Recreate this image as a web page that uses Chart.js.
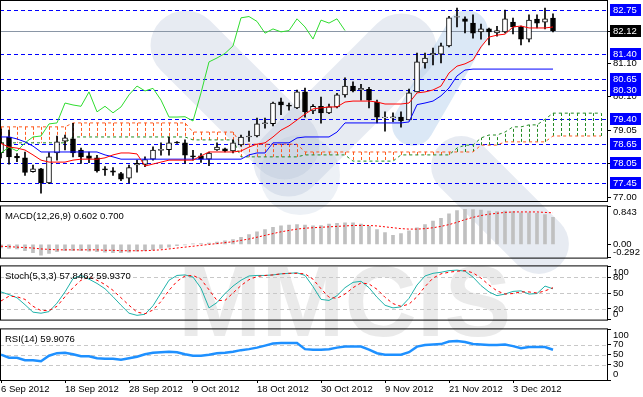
<!DOCTYPE html>
<html>
<head>
<meta charset="utf-8">
<script src="https://cdn.jsdelivr.net/npm/chart.js@4.4.0/dist/chart.umd.min.js"></script>
<style>
  html, body { margin: 0; padding: 0; background: #fff; }
  #wrap { position: relative; width: 643px; height: 397px; overflow: hidden; }
  #wrap canvas { position: absolute; left: 0; }
</style>
</head>
<body>
<div id="wrap">
  <canvas id="wm" width="643" height="397" style="top:0"></canvas>
  <canvas id="main" width="643" height="220" style="top:-9px"></canvas>
  <canvas id="macd" width="643" height="78" style="top:193px"></canvas>
  <canvas id="stoch" width="643" height="80" style="top:253px"></canvas>
  <canvas id="rsi" width="643" height="81" style="top:316px"></canvas>
</div>
<script>
// daily bars, oldest first
const opens = [78.38,78.86,78.27,78.22,77.80,77.88,77.45,78.37,78.73,78.80,
  78.46,78.28,78.22,77.88,77.82,77.74,77.60,78.00,78.02,78.18,
  78.45,78.47,78.70,78.68,78.28,78.28,78.18,78.46,78.50,78.43,
  78.62,78.86,78.89,79.27,79.27,79.94,79.84,79.75,80.24,79.66,
  79.80,79.60,79.78,80.15,80.42,80.30,80.32,79.93,79.44,79.44,
  79.47,79.38,80.24,81.13,81.38,81.40,81.65,82.53,82.48,82.35,
  82.08,82.17,82.05,82.08,82.38,82.23,81.86,82.47,82.38,82.50];
const highs = [79.10,79.07,78.35,78.40,78.00,77.90,78.38,78.89,78.92,79.28,
  78.52,78.40,78.30,77.95,77.92,77.78,78.00,78.15,78.25,78.56,
  78.68,78.86,78.72,78.77,78.45,78.35,78.40,78.68,78.52,78.77,
  78.92,79.04,79.44,79.44,79.93,80.05,79.90,80.30,80.36,79.85,
  80.08,79.87,80.20,80.67,80.55,80.47,80.38,79.99,79.63,79.60,
  79.63,80.33,81.43,81.43,81.58,81.74,82.56,82.81,82.54,82.60,
  82.32,82.20,82.25,82.75,82.50,82.26,82.60,82.60,82.81,82.63];
const lows = [78.22,78.03,78.10,77.68,77.78,77.14,77.43,78.15,78.46,78.25,
  78.05,78.07,77.78,77.68,77.68,77.52,77.45,77.78,77.95,78.15,
  78.30,78.30,78.66,78.05,78.15,78.08,77.98,78.45,78.40,78.37,
  78.58,78.72,78.86,79.13,79.20,79.54,79.68,79.73,79.47,79.57,
  79.28,79.57,79.75,80.08,80.24,79.99,79.75,79.29,79.04,79.33,
  79.16,79.38,80.24,80.97,81.07,81.13,81.62,82.23,82.05,81.89,
  81.86,81.68,81.95,82.05,82.02,81.68,81.77,82.20,82.17,82.08];
const closes = [78.68,78.25,78.22,77.77,77.88,77.45,78.25,78.71,78.83,78.37,
  78.25,78.20,77.82,77.85,77.78,77.57,77.92,78.05,78.17,78.46,
  78.48,78.68,78.68,78.30,78.25,78.18,78.37,78.55,78.43,78.68,
  78.86,78.89,79.26,79.29,79.90,79.84,79.80,80.24,79.63,79.80,
  79.60,79.78,80.15,80.42,80.27,80.35,79.99,79.47,79.47,79.48,
  79.35,80.21,81.16,81.28,81.42,81.65,82.51,82.55,82.40,82.04,
  82.17,82.08,82.12,82.48,82.23,81.86,82.44,82.35,82.48,82.12];

// ichimoku
const tenkan = [78.66,78.55,78.52,78.46,78.31,78.15,78.09,78.09,78.09,78.15,
  78.18,78.18,78.18,78.22,78.31,78.37,78.37,78.34,77.97,78.03,
  78.09,78.15,78.15,78.15,78.15,78.28,78.40,78.40,78.40,78.40,
  78.43,78.55,78.64,78.68,78.86,79.07,79.20,79.38,79.56,79.72,
  79.75,79.78,79.78,79.93,79.96,79.96,79.96,79.93,79.87,79.87,
  79.87,79.90,80.21,80.24,80.30,80.42,80.82,81.03,81.10,81.22,
  81.62,81.92,81.98,82.01,82.23,82.26,82.20,82.20,82.20,82.23];
const kijun = [78.86,78.86,78.80,78.71,78.58,78.40,78.40,78.40,78.40,78.40,
  78.40,78.40,78.40,78.31,78.25,78.18,78.18,78.18,78.18,78.18,
  78.18,78.18,78.18,78.18,78.18,78.18,78.18,78.18,78.18,78.18,
  78.18,78.31,78.37,78.37,78.68,78.68,78.68,78.83,78.86,78.86,
  78.86,78.86,79.01,79.29,79.29,79.29,79.29,79.29,79.29,79.29,
  79.29,79.32,79.85,79.90,79.96,80.12,80.36,80.73,80.91,80.94,
  80.94,80.94,80.94,80.94,80.94,80.94,80.94,80.94,80.94,80.94];
const senkouA = [79.17,79.17,79.17,79.17,79.17,79.17,79.17,79.17,79.17,79.29,
  79.29,79.29,79.29,79.29,79.29,79.29,79.29,79.29,79.29,79.29,
  79.29,79.29,79.29,79.29,79.01,79.01,79.01,79.01,79.01,79.01,
  78.64,78.64,78.64,78.64,78.64,78.64,78.64,78.64,78.40,78.40,
  78.40,78.40,78.40,78.40,78.40,78.40,78.40,78.40,78.40,78.40,
  78.40,78.40,78.40,78.40,78.40,78.40,78.40,78.40,78.40,78.40,
  78.61,78.61,78.61,78.71,78.71,78.71,78.71,78.71,78.71,78.89,
  78.89,78.89,78.89,78.89,78.89,78.89];
const senkouB = [78.68,78.68,78.68,78.68,78.68,78.68,78.68,78.68,78.68,78.86,
  78.86,78.86,78.86,78.86,78.86,78.86,78.86,78.86,78.86,78.86,
  78.86,78.86,78.86,78.86,78.77,78.77,78.77,78.77,78.77,78.77,
  78.25,78.25,78.25,78.25,78.25,78.25,78.25,78.25,78.31,78.31,
  78.31,78.31,78.31,78.31,78.12,78.12,78.12,78.12,78.12,78.12,
  78.31,78.31,78.31,78.31,78.31,78.31,78.31,78.52,78.61,78.61,
  78.83,78.92,78.92,79.01,79.17,79.17,79.23,79.23,79.40,79.59,
  79.59,79.59,79.59,79.59,79.59,79.59];
const chikouShift = 26;

const levels = [82.75, 81.40, 80.65, 80.30, 79.40, 78.65, 78.05, 77.45];
const lastPrice = 82.12;
const priceTicks = [82.10, 81.10, 80.10, 79.05, 78.05, 77.00];

// oscillators
const macdHist = [-0.08,-0.09,-0.10,-0.14,-0.18,-0.24,-0.20,-0.16,-0.14,-0.14,
  -0.14,-0.15,-0.16,-0.17,-0.18,-0.18,-0.17,-0.15,-0.14,-0.12,
  -0.09,-0.06,-0.03,-0.01,0.01,0.02,0.03,0.05,0.08,0.11,
  0.16,0.22,0.28,0.33,0.38,0.41,0.43,0.44,0.43,0.41,
  0.42,0.45,0.47,0.48,0.48,0.45,0.40,0.33,0.26,0.20,
  0.24,0.30,0.37,0.44,0.52,0.58,0.68,0.75,0.78,0.77,
  0.76,0.74,0.73,0.74,0.73,0.70,0.70,0.69,0.66,0.602];
const macdSignal = [-0.04,-0.05,-0.06,-0.07,-0.08,-0.10,-0.11,-0.12,-0.12,-0.12,
  -0.12,-0.12,-0.12,-0.13,-0.13,-0.14,-0.14,-0.14,-0.14,-0.13,
  -0.12,-0.10,-0.08,-0.06,-0.04,-0.02,0.00,0.02,0.04,0.06,
  0.09,0.12,0.16,0.20,0.24,0.28,0.31,0.34,0.36,0.37,
  0.38,0.39,0.40,0.41,0.42,0.42,0.42,0.41,0.39,0.37,
  0.35,0.34,0.34,0.35,0.37,0.40,0.44,0.49,0.55,0.60,
  0.64,0.67,0.69,0.71,0.72,0.72,0.72,0.72,0.71,0.70];
const stochK = [52,47,41,28,14,12,15,31,52,77,
  83,76,68,58,43,27,12,8,10,26,
  50,74,83,84,80,59,22,32,49,63,
  74,82,83,83,84,86,87,88,83,62,
  38,36,45,60,70,72,60,42,27,22,
  24,40,65,82,87,89,92,93,91,80,
  64,52,45,48,53,54,48,49,63,57.85];
const stochD = [35,44,43,38,25,17,17,25,43,60,
  74,80,74,66,55,41,27,14,11,18,
  34,55,72,82,83,76,56,36,36,50,
  64,75,81,83,84,86,87,87,86,76,
  58,42,40,48,60,69,67,57,42,30,
  25,29,43,62,78,86,89,91,92,88,
  78,65,54,48,49,52,52,50,54,59.94];
const rsi = [50,44,44,39,39,37,48,53,54,51,
  47,47,43,42,42,40,43,46,51,54,
  55,56,55,51,48,48,50,53,54,56,
  59,61,64,68,72,73,73,73,61,60,
  60,61,64,66,66,66,60,53,50,50,
  50,55,66,69,70,71,76,77,75,71,
  70,69,69,70,67,63,65,65,65,59.91];

const dateBars = [0, 8, 16, 24, 32, 40, 48, 56, 64];
const dateLabels = ["6 Sep 2012", "18 Sep 2012", "28 Sep 2012", "9 Oct 2012", "18 Oct 2012",
  "30 Oct 2012", "9 Nov 2012", "21 Nov 2012", "3 Dec 2012"];

// ---------------------------------------------------------------
const FONT = "'Liberation Sans', Arial, sans-serif";
const FS = 9.5;
Chart.defaults.font.family = FONT;
Chart.defaults.font.size = FS;
Chart.defaults.color = "#000";

const X_MIN = -0.125, X_MAX = 75.875;
const pts = (arr, shift) => arr.map((v, i) => ({ x: i - (shift || 0), y: v }));

// background logo
(function () {
  const c = document.getElementById("wm").getContext("2d");
  function band(cx, cy, w, h, ang, col) {
    c.save();
    c.translate(cx, cy);
    c.rotate(ang);
    c.fillStyle = col;
    c.beginPath();
    c.roundRect(-w / 2, -h / 2, w, h, Math.min(w, h) / 2);
    c.fill();
    c.restore();
  }
  band(235, 95, 70, 210, -Math.PI / 4, "rgba(175,190,212,0.3)");
  band(345, 105, 70, 230, Math.PI / 4, "rgba(175,190,212,0.3)");
  band(300, 175, 80, 80, Math.PI / 4, "rgba(175,190,212,0.22)");
  band(440, 78, 42, 150, Math.PI / 6, "rgba(160,195,232,0.38)");
  band(500, 205, 60, 170, -Math.PI / 4, "rgba(175,190,212,0.3)");
  c.fillStyle = "rgba(185,185,185,0.3)";
  c.font = "bold 100px 'Liberation Sans'";
  c.fillText("MMCIS", 178, 336);
})();

const panelPlugin = {
  id: "panel",
  beforeDatasetsDraw(chart, args, o) {
    const { ctx, chartArea: a, scales: { x, y } } = chart;
    ctx.save();
    ctx.beginPath();
    ctx.rect(a.left, a.top, a.right - a.left, a.bottom - a.top);
    ctx.clip();
    ctx.lineWidth = 1;
    (o.levels || []).forEach((l) => {
      const py = Math.round(y.getPixelForValue(l.value)) + 0.5;
      ctx.strokeStyle = l.color;
      ctx.setLineDash(l.dash || []);
      ctx.beginPath();
      ctx.moveTo(a.left, py);
      ctx.lineTo(a.right, py);
      ctx.stroke();
    });
    if (o.cloud) {
      ctx.setLineDash([3, 2]);
      o.cloud.a.forEach((va, i) => {
        const vb = o.cloud.b[i];
        const px = Math.round(x.getPixelForValue(i)) + 0.5;
        ctx.strokeStyle = va >= vb ? o.cloud.up : o.cloud.down;
        ctx.beginPath();
        ctx.moveTo(px, y.getPixelForValue(va));
        ctx.lineTo(px, y.getPixelForValue(vb));
        ctx.stroke();
      });
    }
    ctx.restore();
  },
  afterDraw(chart, args, o) {
    const { ctx, chartArea: a, scales: { y } } = chart;
    ctx.save();
    ctx.strokeStyle = "#000";
    ctx.lineWidth = 1;
    ctx.setLineDash([]);
    ctx.strokeRect(a.left + 0.5, a.top - 0.5, a.right - a.left - 1, a.bottom - a.top + 1);
    ctx.font = FS + "px " + FONT;
    ctx.textBaseline = "middle";
    if (o.title) {
      ctx.fillStyle = "#000";
      ctx.fillText(o.title, a.left + 5, a.top + 10);
    }
    (o.boxes || []).forEach((b) => {
      const py = Math.round(y.getPixelForValue(b.value));
      ctx.fillStyle = b.bg;
      ctx.fillRect(a.right + 2, py - 6, 31, 12);
      ctx.fillStyle = "#fff";
      ctx.fillText(b.value.toFixed(2), a.right + 5, py + 0.5);
    });
    ctx.restore();
  },
};

function xAxis(show) {
  const ax = {
    type: "linear", min: X_MIN, max: X_MAX, offset: false, display: show,
    grid: { drawOnChartArea: false, tickLength: 3, color: "#000" },
    border: { display: false },
  };
  if (show) {
    ax.afterBuildTicks = (s) => { s.ticks = dateBars.map((v) => ({ value: v })); };
    ax.afterFit = (s) => { s.height = 17; };
    ax.ticks = {
      autoSkip: false, maxRotation: 0, align: "start", padding: 1,
      callback: (v) => dateLabels[dateBars.indexOf(v)],
    };
  }
  return ax;
}

// top / bottom labels are nudged inside the panel with an empty line, like the terminal does
function yAxis(min, max, ticks, fmt, inset) {
  return {
    type: "linear", position: "right", min: min, max: max,
    afterFit: (s) => { s.width = 35; },
    afterBuildTicks: (s) => { s.ticks = ticks.map((v) => ({ value: v })); },
    ticks: {
      autoSkip: false, padding: 2,
      callback: (v) => {
        const t = fmt(v);
        if (inset && v === max) return ["", t];
        if (inset && v === min) return [t, ""];
        return t;
      },
    },
    grid: { drawOnChartArea: false, tickLength: 3, color: "#000" },
    border: { display: false },
  };
}

function makePanel(id, datasets, y, panel, showDates) {
  return new Chart(document.getElementById(id), {
    type: "line",
    data: { datasets: datasets },
    plugins: [panelPlugin],
    options: {
      responsive: false,
      animation: false,
      events: [],
      layout: { padding: { top: 10, bottom: showDates ? 0 : 10, left: 0, right: 0 } },
      elements: { point: { radius: 0 }, line: { tension: 0 } },
      plugins: { legend: { display: false }, tooltip: { enabled: false }, panel: panel },
      scales: { x: xAxis(showDates), y: y },
    },
  });
}

// main price panel
makePanel("main", [
  { type: "line", data: pts(tenkan), borderColor: "#ff0000", borderWidth: 1, order: 1 },
  { type: "line", data: pts(kijun), borderColor: "#0000ff", borderWidth: 1, order: 1 },
  { type: "line", data: pts(closes.slice(chikouShift)), borderColor: "#2fdc2f", borderWidth: 1, order: 1 },
  { type: "line", data: pts(senkouA), borderColor: "#ff5a1f", borderWidth: 1, borderDash: [3, 3], order: 5 },
  { type: "line", data: pts(senkouB), borderColor: "#228b22", borderWidth: 1, borderDash: [3, 3], order: 5 },
  {
    type: "bar", grouped: false, order: 3, barThickness: 1,
    data: lows.map((v, i) => ({ x: i, y: [v, highs[i]] })),
    backgroundColor: "#000",
  },
  {
    type: "bar", grouped: false, order: 2, barThickness: 5,
    data: opens.map((v, i) => ({ x: i, y: [v, closes[i]] })),
    backgroundColor: (c) => (closes[c.dataIndex] >= opens[c.dataIndex] ? "#fff" : "#000"),
    borderColor: "#000", borderWidth: 1, borderSkipped: false,
  },
], yAxis(76.898, 83.026, priceTicks, (v) => v.toFixed(2), false), {
  levels: levels.map((v) => ({ value: v, color: "#0000ff", dash: [4, 3] }))
    .concat([{ value: lastPrice, color: "#8a96a6" }]),
  cloud: { a: senkouA, b: senkouB, up: "#ff5a1f", down: "#228b22" },
  boxes: levels.map((v) => ({ value: v, bg: "#0000ff" })).concat([{ value: lastPrice, bg: "#000" }]),
}, false);

// MACD
makePanel("macd", [
  { type: "line", data: pts(macdSignal), borderColor: "#ff0000", borderWidth: 1, borderDash: [2, 2], order: 1 },
  { type: "bar", grouped: false, order: 2, barThickness: 3, data: pts(macdHist), backgroundColor: "#c0c0c0" },
], yAxis(-0.292, 0.843, [0.843, 0, -0.292], (v) => (v === 0 ? "0.00" : String(v)), true), {
  title: "MACD(12,26,9) 0.602 0.700",
}, false);

// Stochastic
makePanel("stoch", [
  { type: "line", data: pts(stochK), borderColor: "#20b2aa", borderWidth: 1, order: 2 },
  { type: "line", data: pts(stochD), borderColor: "#ff0000", borderWidth: 1, borderDash: [3, 3], order: 1 },
], yAxis(0, 100, [100, 80, 50, 20, 0], (v) => String(v), true), {
  title: "Stoch(5,3,3) 57.8462 59.9370",
  levels: [80, 50, 20].map((v) => ({ value: v, color: "#c8c8c8", dash: [4, 3] })),
}, false);

// RSI
makePanel("rsi", [
  { type: "line", data: pts(rsi), borderColor: "#1e90ff", borderWidth: 2.5 },
], yAxis(0, 100, [100, 70, 50, 30, 0], (v) => String(v), true), {
  title: "RSI(14) 59.9076",
  levels: [70, 50, 30].map((v) => ({ value: v, color: "#c8c8c8", dash: [4, 3] })),
}, true);
</script>
</body>
</html>
